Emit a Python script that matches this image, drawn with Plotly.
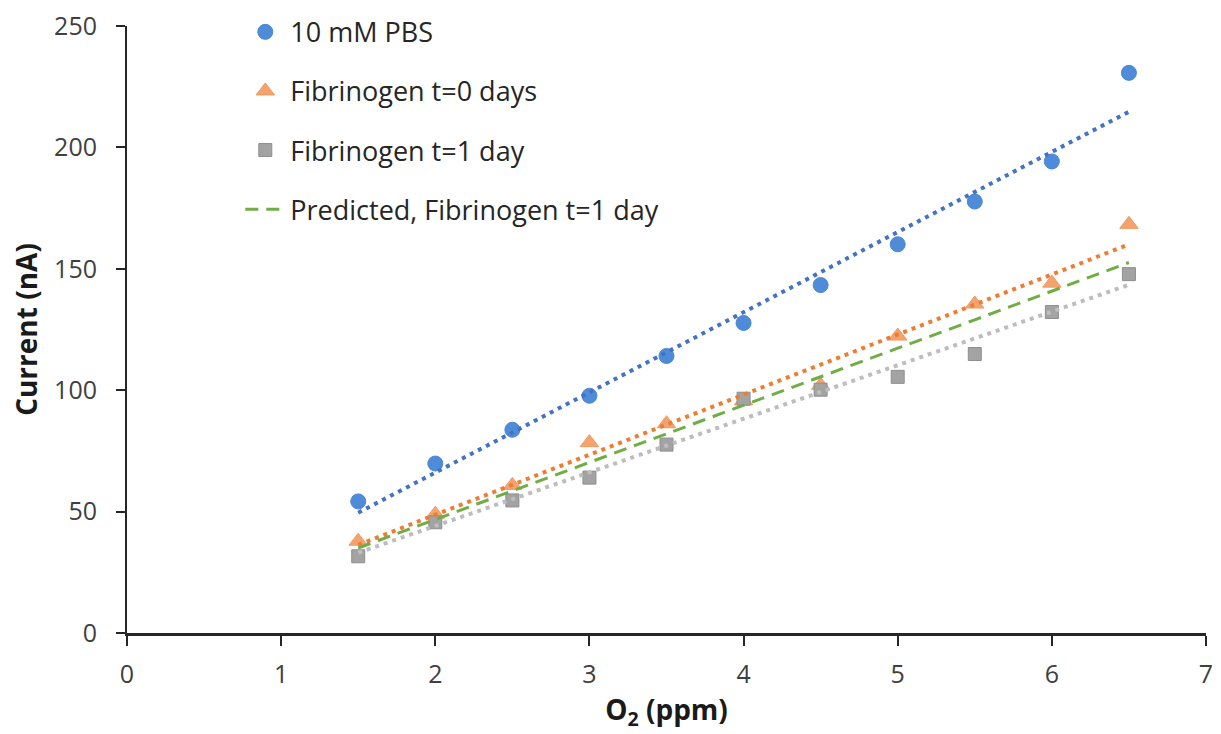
import numpy as np
import plotly.graph_objects as go

o2_ppm = [1.5, 2.0, 2.5, 3.0, 3.5, 4.0, 4.5, 5.0, 5.5, 6.0, 6.5]
pbs_current = [54.2, 69.8, 83.7, 97.7, 114.1, 127.7, 143.3, 160.1, 177.7, 194.2, 230.7]
fib_t0_current = [37.8, 48.9, 60.8, 78.4, 86.2, 95.6, 102.0, 122.3, 135.5, 144.1, 168.3]
fib_t1_current = [31.6, 45.6, 54.6, 64.0, 77.6, 96.5, 100.2, 105.5, 114.9, 132.2, 147.8]
predicted_t1_current = [35.0, 46.8, 58.5, 70.3, 82.0, 93.8, 105.5, 117.3, 129.0, 140.8, 152.6]

x_ticks = [0, 1, 2, 3, 4, 5, 6, 7]
y_ticks = [0, 50, 100, 150, 200, 250]

FONT = "Open Sans"
TXT = "#404040"

fig = go.Figure()

# markers
fig.add_trace(go.Scatter(x=o2_ppm, y=pbs_current, mode="markers", name="10 mM PBS",
                         marker=dict(symbol="circle", size=15, color="#4E8CD9",
                                     line=dict(width=1, color="#4A86D2")),
                         legendgroup="a", legendrank=1))
fig.add_trace(go.Scatter(x=o2_ppm, y=fib_t0_current, mode="markers", name="Fibrinogen t=0 days",
                         marker=dict(symbol="triangle-up", size=16, color="#F4A26E",
                                     line=dict(width=1, color="#EE9A62")),
                         legendgroup="b", legendrank=2))
fig.add_trace(go.Scatter(x=o2_ppm, y=fib_t1_current, mode="markers", name="Fibrinogen t=1 day",
                         marker=dict(symbol="square", size=13, color="#A3A3A3",
                                     line=dict(width=1, color="#8E8E8E")),
                         legendgroup="c", legendrank=3))

# linear trendlines (least-squares fits of each measured series)
trend_x = np.array([min(o2_ppm), max(o2_ppm)])
for ys, col in [(pbs_current, "#4472C4"), (fib_t0_current, "#ED7D31"), (fib_t1_current, "#BDBDBD")]:
    m, b = np.polyfit(o2_ppm, ys, 1)
    fig.add_trace(go.Scatter(x=trend_x, y=m * trend_x + b, mode="lines", showlegend=False,
                             line=dict(color=col, width=4, dash="4px,5px"), hoverinfo="skip"))

fig.add_trace(go.Scatter(x=o2_ppm, y=predicted_t1_current, mode="lines",
                         name="Predicted, Fibrinogen t=1 day",
                         line=dict(color="#70AD47", width=3, dash="13px,8px"),
                         legendgroup="d", legendrank=4))

fig.update_layout(
    width=1221, height=734,
    margin=dict(l=127, r=8, t=24, b=101),
    paper_bgcolor="white", plot_bgcolor="white",
    font=dict(family=FONT, size=25, color=TXT),
    legend=dict(x=0.105, y=1.03, xanchor="left", yanchor="top",
                bgcolor="rgba(0,0,0,0)", borderwidth=0,
                traceorder="grouped", tracegroupgap=21, itemwidth=40,
                font=dict(family=FONT, size=27, color="#262626")),
    showlegend=True,
)

fig.update_xaxes(range=[0, 7], tickvals=x_ticks, ticktext=[str(v) for v in x_ticks],
                 showgrid=False, zeroline=False, showline=True, linecolor="#262626", linewidth=3,
                 ticks="outside", ticklen=10, tickwidth=2, tickcolor="#262626",
                 ticklabelstandoff=7,
                 tickfont=dict(family=FONT, size=25, color=TXT),
                 title=dict(text="<b>O<sub>2</sub> (ppm)</b>", standoff=12,
                            font=dict(family=FONT, size=28, color="#1a1a1a")))
fig.update_yaxes(range=[0, 250], tickvals=y_ticks, ticktext=[str(v) for v in y_ticks],
                 showgrid=False, zeroline=False, showline=True, linecolor="#262626", linewidth=2,
                 ticks="outside", ticklen=9, tickwidth=2, tickcolor="#262626",
                 ticklabelstandoff=14,
                 tickfont=dict(family=FONT, size=25, color=TXT),
                 title=dict(text="<b>Current (nA)</b>", standoff=8,
                            font=dict(family=FONT, size=28, color="#1a1a1a")))

fig.write_html("out.html")
